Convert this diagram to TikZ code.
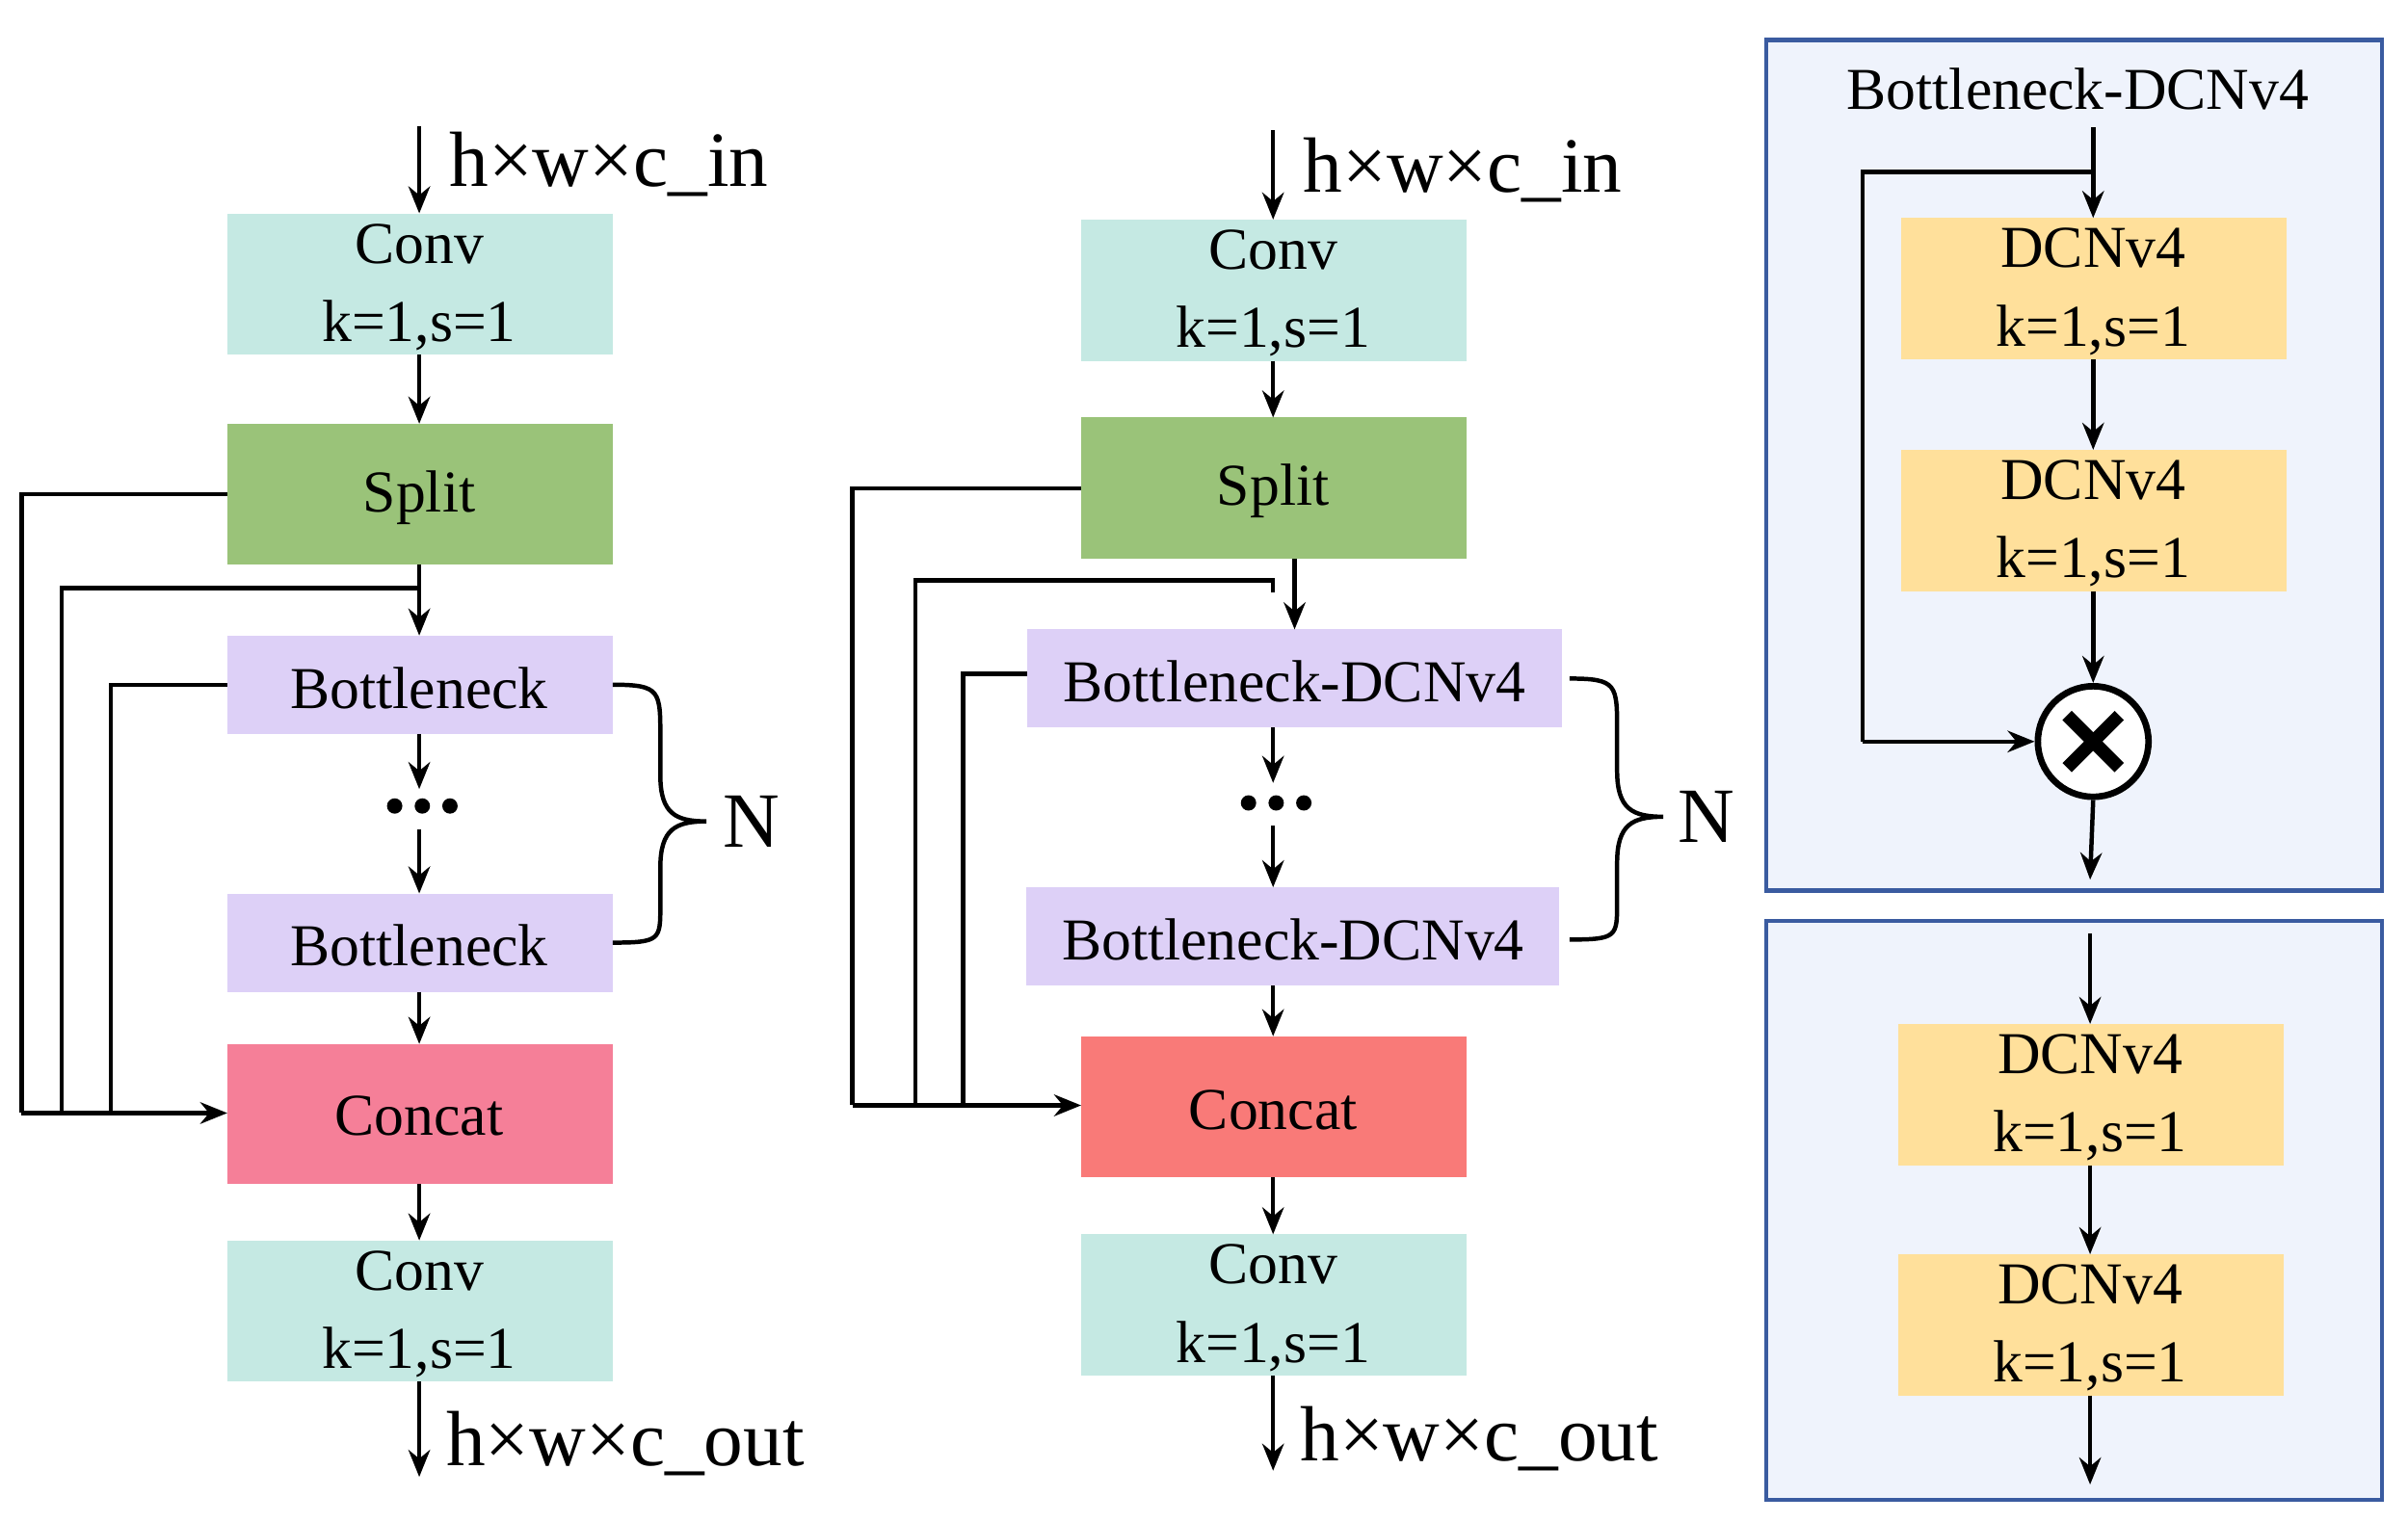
\documentclass[tikz,border=0pt]{standalone}
\usepackage{fontspec}
\setmainfont{Liberation Serif}
\usetikzlibrary{arrows.meta}
\definecolor{convc}{HTML}{C5E9E3}
\definecolor{splitc}{HTML}{9AC379}
\definecolor{bnc}{HTML}{DDD0F7}
\definecolor{catA}{HTML}{F57F98}
\definecolor{catB}{HTML}{F97A78}
\definecolor{dcn}{HTML}{FFE09B}
\definecolor{panel}{HTML}{EFF3FC}
\definecolor{pborder}{HTML}{3A5BA0}
\begin{document}
\begin{tikzpicture}[x=0.01cm,y=-0.01cm,
  box/.style={draw=none,inner sep=0pt,align=center,font=\fontsize{11}{14.5}\selectfont},
  ar/.style={-{Stealth[length=5pt,width=4pt]},line width=0.8pt},
  ln/.style={line width=0.8pt},
  dots/.style={circle,fill,inner sep=0pt,minimum size=0.1cm},
  io/.style={font=\fontsize{14.5}{18}\selectfont,anchor=west,inner sep=0pt}]
\useasboundingbox (0,0) rectangle (1568,991);
% ---------- left column ----------
\fill[convc] (148,139) rectangle (399,231); \node[box] (c1) at (273,187) {Conv\\k=1,s=1};
\fill[splitc] (148,276) rectangle (399,368); \node[box] (s1) at (273,324) {Split};
\fill[bnc] (148,414) rectangle (399,478); \node[box] (b1) at (273,448) {Bottleneck};
\node[dots] (d1) at (275,525) {}; \node[dots] at (257,525) {}; \node[dots] at (293,525) {};
\fill[bnc] (148,582) rectangle (399,646); \node[box] (b2) at (273,616) {Bottleneck};
\fill[catA] (148,680) rectangle (399,771); \node[box] (k1) at (273,727) {Concat};
\fill[convc] (148,808) rectangle (399,900); \node[box] (o1) at (273,856) {Conv\\k=1,s=1};
\coordinate (i1) at (273,82); \coordinate (e1) at (273,962);
\draw[ar] (i1) -- (273,139);
\node[io] at (292,107) {h×w×c\_in};
\draw[ar] (273,231) -- (273,276);
\draw[ar] (273,368) -- (273,414);
\draw[ar] (273,478) -- (273,514);
\draw[ar] (273,540) -- (273,582);
\draw[ar] (273,646) -- (273,680);
\draw[ar] (273,771) -- (273,808);
\draw[ar] (273,900) -- (e1);
\node[io] at (290,940) {h×w×c\_out};
\draw[ln] (148,322) -| (14,725);
\draw[ln] (273,383) -| (40,725);
\draw[ln] (148,446) -| (72,725);
\draw[ar] (14,725) -- (148,725);
\draw[ln] (399,446) .. controls (430,446) and (430,450) .. (430,480) -- (430,505) .. controls (430,530) and (440,535) .. (460,535)
  (460,535) .. controls (440,535) and (430,540) .. (430,565) -- (430,590) .. controls (430,612) and (430,614) .. (399,614);
\node[io] at (470,535) {N};
% ---------- middle column ----------
\fill[convc] (704,143) rectangle (955,235); \node[box] (c2) at (829,191) {Conv\\k=1,s=1};
\fill[splitc] (704,272) rectangle (955,364); \node[box] (s2) at (829,320) {Split};
\fill[bnc] (669,410) rectangle (1017,474); \node[box] (b3) at (843,444) {Bottleneck-DCNv4};
\node[dots] (d2) at (831,523) {}; \node[dots] at (813,523) {}; \node[dots] at (849,523) {};
\fill[bnc] (668,578) rectangle (1015,642); \node[box] (b4) at (842,612) {Bottleneck-DCNv4};
\fill[catB] (704,675) rectangle (955,767); \node[box] (k2) at (829,723) {Concat};
\fill[convc] (704,804) rectangle (955,896); \node[box] (o2) at (829,852) {Conv\\k=1,s=1};
\draw[ar] (829,85) -- (829,143);
\node[io] at (848,111) {h×w×c\_in};
\draw[ar] (829,235) -- (829,272);
\draw[ar] (843,364) -- (843,410);
\draw[ar] (829,474) -- (829,510);
\draw[ar] (829,538) -- (829,578);
\draw[ar] (829,642) -- (829,675);
\draw[ar] (829,767) -- (829,804);
\draw[ar] (829,896) -- (829,958);
\node[io] at (846,937) {h×w×c\_out};
\draw[ln] (704,318) -| (555,720);
\draw[ln] (829,386) -- (829,378) -| (596,720);
\draw[ln] (669,439) -| (627,720);
\draw[ar] (555,720) -- (704,720);
\draw[ln] (1022,442) .. controls (1053,442) and (1053,446) .. (1053,476) -- (1053,502) .. controls (1053,527) and (1063,532) .. (1083,532)
  (1083,532) .. controls (1063,532) and (1053,537) .. (1053,562) -- (1053,588) .. controls (1053,610) and (1053,612) .. (1022,612);
\node[io] at (1092,532) {N};
% ---------- right panels ----------
\draw[pborder,fill=panel,line width=0.8pt] (1150,26) rectangle (1551,580);
\draw[pborder,fill=panel,line width=0.8pt] (1150,600) rectangle (1551,977);
\node[box] (t) at (1353,58) {Bottleneck-DCNv4};
\fill[dcn] (1238,142) rectangle (1489,234); \node[box] (r1) at (1363,190) {DCNv4\\k=1,s=1};
\fill[dcn] (1238,293) rectangle (1489,385); \node[box] (r2) at (1363,341) {DCNv4\\k=1,s=1};
\node[circle,draw,line width=1.2pt,minimum size=0.72cm,inner sep=0pt,fill=white] (m) at (1363,483) {};
\draw[line width=2.4pt] (1346,466) -- (1380,500) (1346,500) -- (1380,466);
\draw[ar] (1363,83) -- (1363,142);
\draw[ln] (1363,112) -| (1213,483);
\draw[ar] (1213,483) -- (m.west);
\draw[ar] (1363,234) -- (1363,293);
\draw[ar] (1363,385) -- (m.north);
\draw[ar] (m.south) -- (1361,573);
\fill[dcn] (1236,667) rectangle (1487,759); \node[box] (r3) at (1361,715) {DCNv4\\k=1,s=1};
\fill[dcn] (1236,817) rectangle (1487,909); \node[box] (r4) at (1361,865) {DCNv4\\k=1,s=1};
\draw[ar] (1361,608) -- (1361,667);
\draw[ar] (1361,759) -- (1361,817);
\draw[ar] (1361,909) -- (1361,967);
\end{tikzpicture}
\end{document}
